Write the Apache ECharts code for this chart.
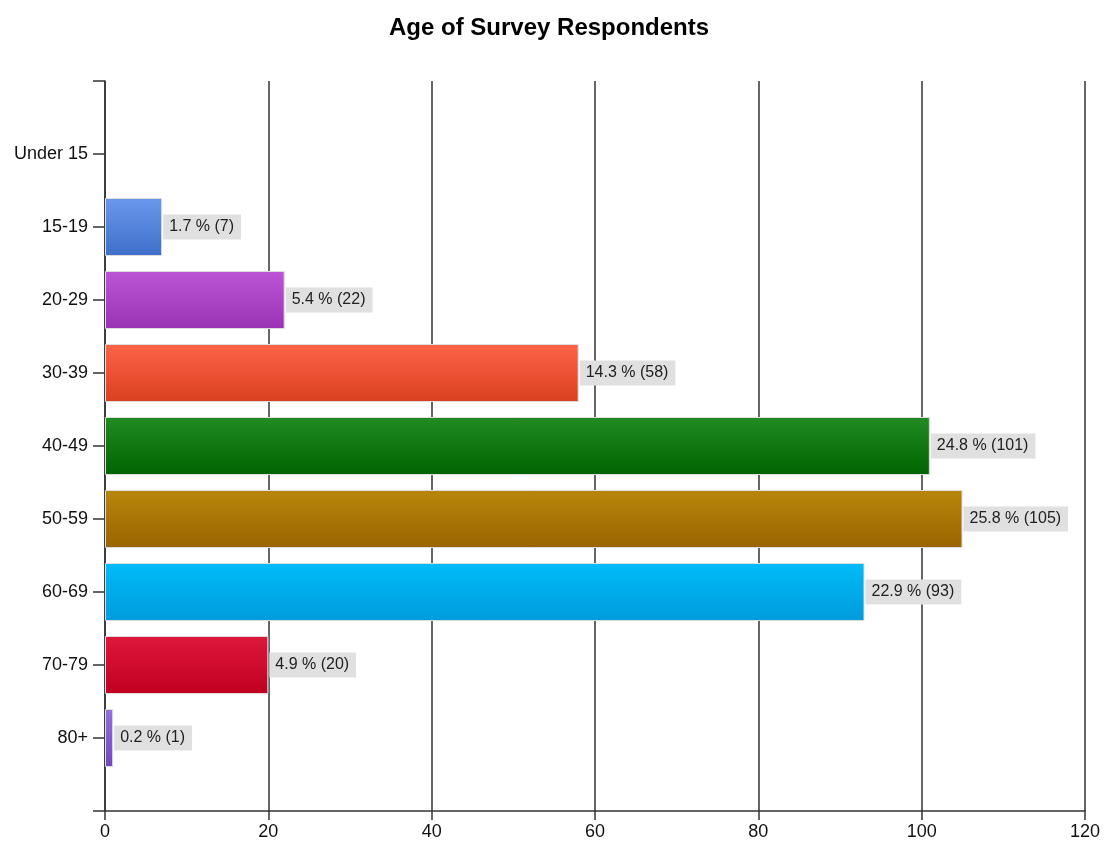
<!DOCTYPE html>
<html>
<head>
<meta charset="utf-8">
<script src="https://cdn.jsdelivr.net/npm/echarts@6/dist/echarts.min.js"></script>
<style>
  html, body { margin: 0; padding: 0; background: #fff; }
  #chart { width: 1106px; height: 841px; }
</style>
</head>
<body>
<div id="chart"></div>
<script>
// age groups, top to bottom
const ageGroups = ["Under 15", "15-19", "20-29", "30-39", "40-49", "50-59", "60-69", "70-79", "80+"];
const counts = [0, 7, 22, 58, 101, 105, 93, 20, 1];
const percents = [0, 1.7, 5.4, 14.3, 24.8, 25.8, 22.9, 4.9, 0.2];
// top / bottom gradient colours per bar
const topColors = ["#cccccc", "#6a98ec", "#bb55d6", "#fd6346", "#228b22", "#b8860b", "#00bcf8", "#de163c", "#9370db"];
const bottomColors = ["#aaaaaa", "#3f6fca", "#9a32b4", "#d9401f", "#006400", "#9a6400", "#009bdc", "#c00020", "#7148bd"];
const xTicks = [0, 20, 40, 60, 80, 100, 120];

const chart = echarts.init(document.getElementById("chart"));

// blank slots at both ends so the categories sit on ticks like the original
const yCats = [""].concat(ageGroups, [""]);

const barData = ["-"];
ageGroups.forEach((g, i) => {
  barData.push({
    value: counts[i],
    pct: percents[i],
    label: { show: counts[i] > 0 },
    itemStyle: {
      borderWidth: counts[i] > 0 ? 1 : 0,
      color: new echarts.graphic.LinearGradient(0, 0, 0, 1, [
        { offset: 0, color: topColors[i] },
        { offset: 1, color: bottomColors[i] },
      ]),
    },
  });
});
barData.push("-");

chart.setOption({
  animation: false,
  title: {
    text: "Age of Survey Respondents",
    left: 384,
    top: 11,
    textStyle: { fontFamily: "Liberation Sans", fontSize: 24, fontWeight: "bold", color: "#000" },
  },
  grid: { left: 105, right: 21, top: 81, bottom: 29 },
  xAxis: {
    type: "value",
    min: xTicks[0],
    max: xTicks[xTicks.length - 1],
    interval: 20,
    axisLine: { show: true, lineStyle: { color: "#333", width: 1.5 } },
    axisTick: { show: true, length: 9, lineStyle: { color: "#333", width: 1.5 } },
    axisLabel: { margin: 12, color: "#111", fontSize: 18, fontFamily: "Liberation Sans" },
    splitLine: { show: true, lineStyle: { color: "#333", width: 1.5 } },
  },
  yAxis: {
    type: "category",
    inverse: true,
    boundaryGap: false,
    data: yCats,
    axisLine: { show: true, lineStyle: { color: "#333", width: 1.5 } },
    axisTick: { show: true, length: 12, lineStyle: { color: "#333", width: 1.5 } },
    axisLabel: { margin: 17, color: "#111", fontSize: 18, fontFamily: "Liberation Sans", interval: 0 },
    splitLine: { show: false },
  },
  series: [
    {
      type: "bar",
      barWidth: 58,
      data: barData,
      itemStyle: { borderColor: "#dddddd", borderWidth: 1 },
      label: {
        show: true,
        position: "right",
        distance: 1,
        backgroundColor: "#e0e0e0",
        padding: [5, 7, 4, 6],
        color: "#222",
        fontSize: 16,
        fontFamily: "Liberation Sans",
        formatter: (p) => p.data.pct + " % (" + p.data.value + ")",
      },
    },
  ],
});
</script>
</body>
</html>
